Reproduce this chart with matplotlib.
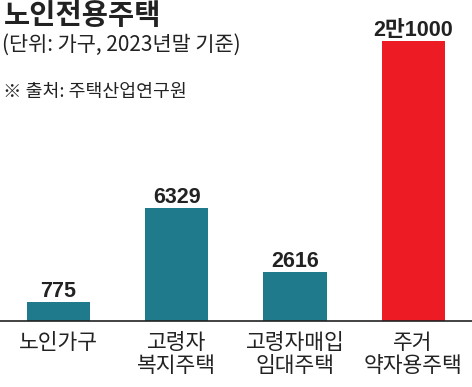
import matplotlib
matplotlib.use('Agg')
import matplotlib.pyplot as plt

# 데이터
categories = ['노인가구', '고령자\n복지주택', '고령자매입\n임대주택', '주거\n약자용주택']
value_labels = ['775', '6329', '2616', '2만1000']
# 그림 속 막대 높이 (원본 인포그래픽은 비례가 아님, 그림에서 읽은 값)
bar_heights = [1420, 8480, 3680, 21000]
colors = ['#1f7a8c', '#1f7a8c', '#1f7a8c', '#ed1c24']

title = '노인전용주택'
subtitle = '(단위: 가구, 2023년말 기준)'
source = '※ 출처: 주택산업연구원'

kr = ['Noto Sans CJK KR', 'DejaVu Sans']
num = ['Liberation Sans', 'Noto Sans CJK KR', 'DejaVu Sans']
plt.rcParams['font.family'] = kr

fig = plt.figure(figsize=(4.72, 3.87), dpi=100)
ax = fig.add_axes([0, 66 / 387, 1, 321 / 387])

xs = range(len(categories))
ax.bar(xs, bar_heights, width=0.535, color=colors)
for x, h, lab in zip(xs, bar_heights, value_labels):
    ax.annotate(lab, (x, h), xytext=(0, 0), textcoords='offset points',
                ha='center', va='bottom', fontsize=15.5, fontweight='bold',
                family=num, color='#222222')

ax.set_xlim(-0.495, 3.498)
ax.set_ylim(0, 24075)
ax.set_xticks(list(xs))
ax.set_xticklabels(categories, fontsize=15.5, color='#222222', linespacing=1.05)
ax.tick_params(axis='x', length=0, pad=8)
ax.set_yticks([])
for s in ['top', 'left', 'right']:
    ax.spines[s].set_visible(False)
ax.spines['bottom'].set_linewidth(1.2)
ax.spines['bottom'].set_color('#222222')

fig.text(0.008, 0.995, title, fontsize=20.5, fontweight='bold', va='top', ha='left', color='#222222')
fig.text(0.004, 0.912, subtitle, fontsize=15, va='top', ha='left', color='#222222')
fig.text(0.006, 0.785, source, fontsize=13.2, va='top', ha='left', color='#222222')

fig.savefig('out.png', dpi=100)
